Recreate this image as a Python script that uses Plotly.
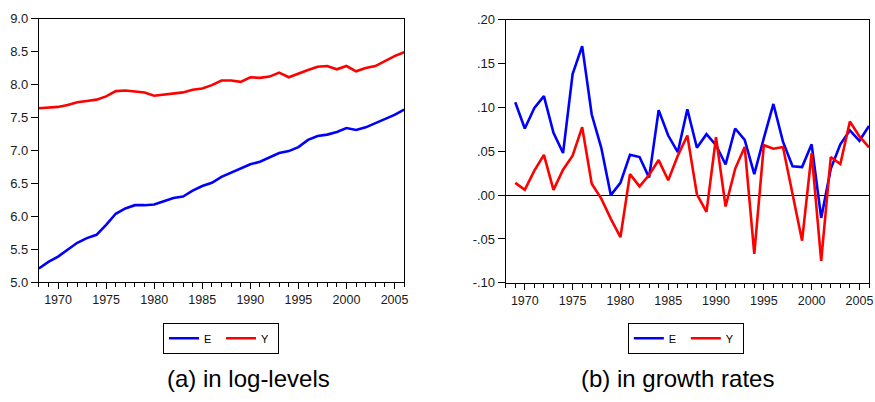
import plotly.graph_objects as go

years_lvl = list(range(1968, 2007))
years_gr = list(range(1969, 2007))

E_level = [5.21, 5.31, 5.39, 5.49, 5.60, 5.67, 5.72, 5.87, 6.04, 6.12,
           6.17, 6.17, 6.18, 6.23, 6.28, 6.30, 6.39, 6.46, 6.51, 6.60,
           6.66, 6.73, 6.79, 6.83, 6.90, 6.96, 6.99, 7.05, 7.16, 7.22,
           7.24, 7.28, 7.34, 7.31, 7.35, 7.41, 7.48, 7.54, 7.62]
Y_level = [7.64, 7.65, 7.66, 7.69, 7.73, 7.75, 7.77, 7.82, 7.90, 7.91,
           7.90, 7.88, 7.83, 7.85, 7.86, 7.88, 7.92, 7.94, 7.99, 8.06,
           8.06, 8.04, 8.11, 8.10, 8.12, 8.18, 8.11, 8.17, 8.22, 8.27,
           8.28, 8.23, 8.28, 8.20, 8.25, 8.28, 8.36, 8.43, 8.49]

E_growth = [0.106, 0.076, 0.0995, 0.113, 0.071, 0.048, 0.138, 0.170, 0.092, 0.054,
            0.000, 0.014, 0.046, 0.0435, 0.020, 0.097, 0.068, 0.049, 0.098, 0.054,
            0.0695, 0.057, 0.035, 0.076, 0.063, 0.024, 0.065, 0.104, 0.061, 0.033,
            0.032, 0.058, -0.026, 0.030, 0.058, 0.074, 0.062, 0.079]
Y_growth = [0.014, 0.006, 0.028, 0.046, 0.006, 0.029, 0.045, 0.0775, 0.013, -0.004,
            -0.027, -0.048, 0.024, 0.010, 0.023, 0.040, 0.017, 0.045, 0.068, 0.001,
            -0.019, 0.066, -0.013, 0.030, 0.055, -0.067, 0.057, 0.053, 0.055, 0.003,
            -0.052, 0.048, -0.075, 0.0435, 0.0355, 0.084, 0.067, 0.0545]

x_tickvals = [1970, 1975, 1980, 1985, 1990, 1995, 2000, 2005]
lvl_tickvals = [5.0, 5.5, 6.0, 6.5, 7.0, 7.5, 8.0, 8.5, 9.0]
gr_tickvals = [-0.10, -0.05, 0.00, 0.05, 0.10, 0.15, 0.20]
gr_ticktext = ["-.10", "-.05", ".00", ".05", ".10", ".15", ".20"]
captions = ["(a) in log-levels", "(b) in growth rates"]

BLUE = "#0000FF"
RED = "#FF0000"
FONT = "Liberation Sans, Arial, sans-serif"
W, H = 875, 402

fig = go.Figure()
fig.add_trace(go.Scatter(x=years_lvl, y=E_level, name="E", mode="lines",
                         line=dict(color=BLUE, width=2.6), xaxis="x", yaxis="y", legend="legend"))
fig.add_trace(go.Scatter(x=years_lvl, y=Y_level, name="Y", mode="lines",
                         line=dict(color=RED, width=2.6), xaxis="x", yaxis="y", legend="legend"))
fig.add_trace(go.Scatter(x=years_gr, y=E_growth, name="E", mode="lines",
                         line=dict(color=BLUE, width=2.6), xaxis="x2", yaxis="y2", legend="legend2"))
fig.add_trace(go.Scatter(x=years_gr, y=Y_growth, name="Y", mode="lines",
                         line=dict(color=RED, width=2.6), xaxis="x2", yaxis="y2", legend="legend2"))

def xax(domain, anchor):
    return dict(domain=domain, anchor=anchor, range=[1968, 2006], tickvals=x_tickvals,
                ticks="outside", ticklen=6, tickwidth=1, tickcolor="black",
                minor=dict(dtick=1, ticks="outside", ticklen=4, tickcolor="black", tickwidth=1),
                showgrid=False, zeroline=False, showline=True, linecolor="black",
                linewidth=1, mirror=True, tickfont=dict(size=12.5, color="#1a1a1a", family=FONT))

def yax(domain, anchor, rng, **kw):
    d = dict(domain=domain, anchor=anchor, range=rng, ticks="outside", ticklen=7,
             tickwidth=1, tickcolor="black", showgrid=False, showline=True,
             linecolor="black", linewidth=1, mirror=True,
             tickfont=dict(size=13, color="#1a1a1a", family=FONT))
    d.update(kw)
    return d

def legend_at(xc):
    return dict(orientation="h", x=xc / W, xanchor="center", y=1 - 328 / H, yanchor="top",
                bordercolor="black", borderwidth=1, bgcolor="white",
                font=dict(size=11, family=FONT, color="black"), itemwidth=30,
                entrywidth=12, entrywidthmode="pixels", tracegroupgap=0)

fig.update_layout(
    width=W, height=H, margin=dict(l=0, r=0, t=0, b=0),
    paper_bgcolor="white", plot_bgcolor="white",
    font=dict(family=FONT, color="#1a1a1a"),
    xaxis=xax([39 / W, 406 / W], "y"),
    yaxis=yax([1 - 286 / H, 1 - 12 / H], "x", [5.0, 9.0], tickvals=lvl_tickvals,
              tickformat=".1f", zeroline=False),
    xaxis2=xax([508 / W, 873 / W], "y2"),
    yaxis2=yax([1 - 286.5 / H, 1 - 13.3 / H], "x2", [-0.10, 0.20], tickvals=gr_tickvals,
               ticktext=gr_ticktext, zeroline=True, zerolinecolor="black", zerolinewidth=1),
    legend=legend_at(222),
    legend2=legend_at(689),
    annotations=[
        dict(text=captions[0], x=250 / W, y=1 - 386 / H, xref="paper", yref="paper",
             xanchor="center", yanchor="middle", showarrow=False,
             font=dict(size=24, family=FONT, color="black")),
        dict(text=captions[1], x=681 / W, y=1 - 386 / H, xref="paper", yref="paper",
             xanchor="center", yanchor="middle", showarrow=False,
             font=dict(size=24, family=FONT, color="black")),
    ],
)

fig.write_html("out.html", config={"displayModeBar": False},
               post_script="document.body.style.margin='0px';")
